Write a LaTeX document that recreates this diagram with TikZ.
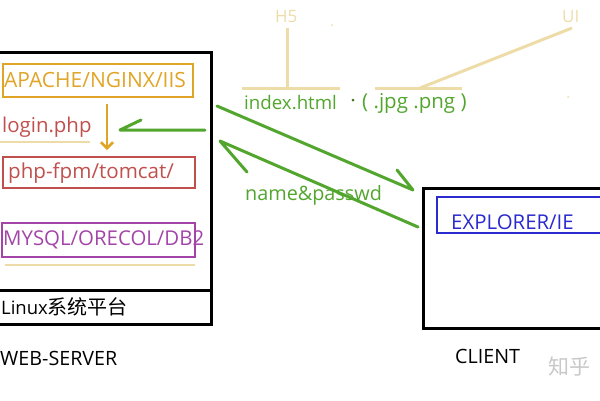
\documentclass[tikz,border=0pt]{standalone}
\usetikzlibrary{arrows.meta}
\usepackage{fontspec}
\setmainfont{Open Sans}
\newfontfamily\cjk{Noto Sans CJK SC}
\definecolor{cOrange}{HTML}{E0A526}
\definecolor{cRed}{HTML}{C0504D}
\definecolor{cPurple}{HTML}{A345A8}
\definecolor{cGreen}{HTML}{52A62E}
\definecolor{cBlue}{HTML}{2A2ACF}
\definecolor{cTan}{HTML}{EEDCA8}
\definecolor{cGray}{HTML}{C8C8C8}
\newcommand{\fs}[1]{\fontsize{#1}{#1}\selectfont}
\tikzset{
  lbl/.style={inner sep=0pt, anchor=west},
  boxline/.style={line width=3pt},
  garrow/.style={draw=cGreen, line width=3pt, line cap=round, line join=round},
  tanline/.style={draw=cTan, line width=3pt}
}
\begin{document}
\begin{tikzpicture}[x=1pt,y=-1pt]
\useasboundingbox (0,0) rectangle (600,400);
% web server box
\draw[boxline] (-5,52) rectangle (211,324);
\draw[boxline] (-5,290) -- (211,290);
% apache
\draw[draw=cOrange, line width=2.5pt] (3,64) rectangle (193,97);
\node[lbl, text=cOrange, font=\fs{21}] (apache) at (4,80) {APACHE/NGINX/IIS};
\node[lbl, text=cRed, font=\fs{20.4}] (login) at (2,127) {login.php};
\draw[tanline, line width=2pt] (0,142) -- (90,142);
\coordinate (oa1) at (107,104);
\coordinate (oa2) at (107,150);
\draw[draw=cOrange, line width=2.5pt, -{Straight Barb[length=6pt,width=12pt]}] (oa1) -- (oa2);
\draw[draw=cRed, line width=2.5pt] (3,157) rectangle (195,188);
\node[lbl, text=cRed, font=\fs{20.6}] (php) at (8,173) {php-fpm/tomcat/};
\draw[draw=cPurple, line width=2.5pt] (2,223) rectangle (195,257);
\node[lbl, text=cPurple, font=\fs{20.4}] (mysql) at (3,240) {MYSQL/ORECOL/DB2};
\draw[tanline, line width=2pt] (5,265) -- (195,265);
\node[lbl, text=black, font=\fs{18.5}] (linux) at (1,307) {Linux{\cjk\fs{20}系统平台}};
\node[lbl, text=black, font=\fs{19.7}] (web) at (0,358) {WEB-SERVER};
% top labels
\node[lbl, text=cTan, font=\fs{17}] (h5) at (275,17) {H5};
\node[lbl, text=cTan, font=\fs{17}] (ui) at (562,17) {UI};
\coordinate (h5b) at (287,28);
\coordinate (h5j) at (287,88);
\draw[tanline] (h5b) -- (h5j);
\draw[tanline] (242,88) -- (340,88);
\draw[tanline] (375,88) -- (462,88);
\coordinate (uib) at (572,28);
\coordinate (uij) at (420,88);
\draw[tanline] (uij) -- (uib);
\fill[cTan] (332,25) circle (1pt);
\fill[cTan] (568,97) circle (1pt);
\node[lbl, text=cGreen, font=\fs{18.7}] (index) at (244,103) {index.html};
\fill[cGreen!70!black] (353,100) circle (1.5pt);
\node[lbl, text=cGreen, font=\fs{20.5}] (jpg) at (362,103) {( .jpg .png )};
\node[lbl, text=cGreen, font=\fs{19.8}] (name) at (245,195) {name\&passwd};
% client box
\draw[boxline] (423,188) rectangle (610,328);
\draw[draw=cBlue, line width=2.5pt] (437,197) rectangle (610,233);
\node[lbl, text=cBlue, font=\fs{20.4}] (ie) at (451,222) {EXPLORER/IE};
\node[lbl, text=black, font=\fs{19.7}] (client) at (455,356) {CLIENT};
\node[lbl, text=cGray, font=\cjk\fs{21}] (zhihu) at (548,367) {知乎};
% green arrows
\coordinate (l1) at (205,130);
\coordinate (l1t) at (120,130);
\coordinate (l1b) at (141,120);
\draw[garrow] (l1) -- (l1t) -- (l1b);
\coordinate (r1) at (217,106);
\coordinate (r1t) at (413,190);
\coordinate (r1b) at (397,170);
\draw[garrow] (r1) -- (r1t) -- (r1b);
\coordinate (r2) at (418,227);
\coordinate (r2t) at (220,141);
\coordinate (r2b) at (247,172);
\draw[garrow] (r2) -- (r2t) -- (r2b);
\end{tikzpicture}
\end{document}
